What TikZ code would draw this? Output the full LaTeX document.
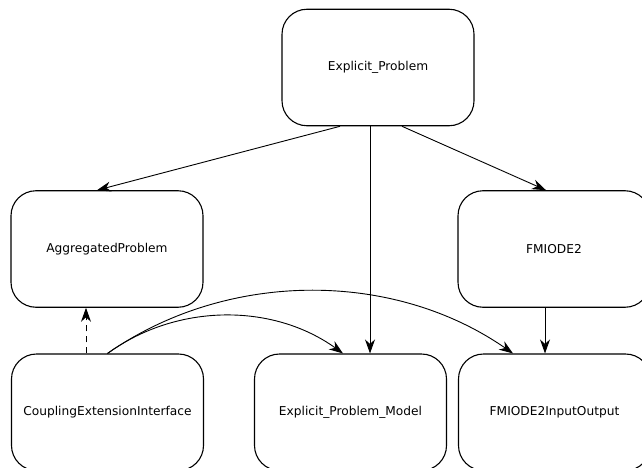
\documentclass[tikz,border=0pt]{standalone}
\usepackage{fontspec}
\setmainfont{DejaVu Sans}
\usetikzlibrary{arrows.meta,calc}
\begin{document}
\begin{tikzpicture}[x=1pt,y=-1pt,
  box/.style={draw,line width=1.1pt,rounded corners=25pt,minimum width=192pt,minimum height=116.5pt,inner sep=0pt,font=\fontsize{12.2}{14}\selectfont},
  conn/.style={line width=0.9pt,-{Stealth[length=14pt,width=10pt,inset=4.5pt]}},
  dconn/.style={conn,dashed,dash pattern=on 6pt off 5pt}]
\useasboundingbox (0,0) rectangle (642,468);
\clip (0,0) rectangle (642,468);
\node[box] (EP)  at (378,67.5)  {Explicit\_Problem};
\node[box] (AP)  at (107,249)   {AggregatedProblem};
\node[box] (FM)  at (554,249)   {FMIODE2};
\node[box] (CEI) at (107.5,412.25) {CouplingExtensionInterface};
\node[box] (EPM) at (350.5,412.25) {Explicit\_Problem\_Model};
\node[box] (FIO) at (554.5,412.25) {FMIODE2InputOutput};
\draw[conn] ($(EP.south)+(-38,0)$) -- ($(AP.north)+(-10,0)$);
\draw[conn] ($(EP.south)+(-8,0)$) -- ($(EPM.north)+(19.5,0)$);
\draw[conn] ($(EP.south)+(24,0)$) -- ($(FM.north)+(-8,0)$);
\draw[conn] ($(FM.south)+(-9,0)$) -- ($(FIO.north)+(-9.5,0)$);
\draw[dconn] ($(CEI.north)+(-21.5,0)$) -- ($(AP.south)+(-21,0)$);
\draw[conn] (CEI.north) .. controls (177,303) and (273,303) .. ($(EPM.north)+(-7.5,0)$);
\draw[conn] (CEI.north) .. controls (227,270) and (393,270) .. ($(FIO.north)+(-41.5,0)$);
\end{tikzpicture}
\end{document}
